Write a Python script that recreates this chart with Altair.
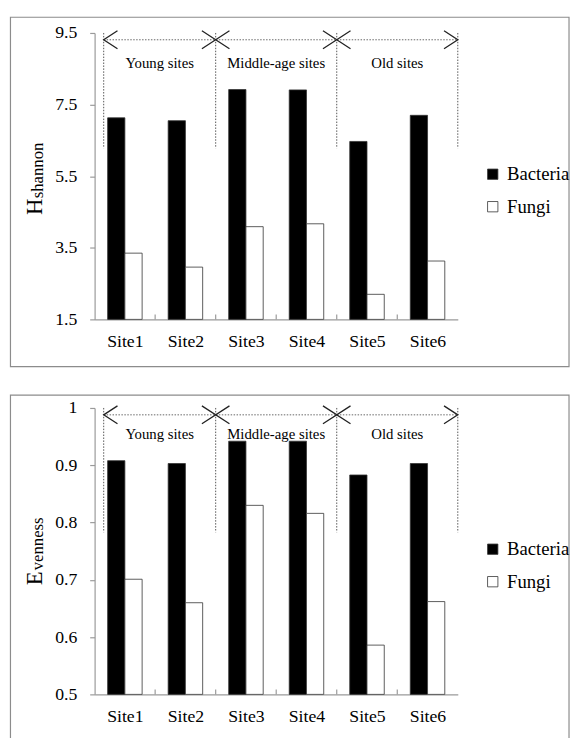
import altair as alt
import pandas as pd

# ---------------- data ----------------
sites = ["Site1", "Site2", "Site3", "Site4", "Site5", "Site6"]
series = ["Bacteria", "Fungi"]

bacteria_H = [7.13, 7.05, 7.92, 7.91, 6.47, 7.20]
fungi_H = [3.35, 2.96, 4.09, 4.17, 2.20, 3.13]

bacteria_E = [0.908, 0.903, 0.942, 0.942, 0.883, 0.903]
fungi_E = [0.701, 0.660, 0.830, 0.816, 0.586, 0.662]

groups = ["Young sites", "Middle-age sites", "Old sites"]
group_start = [0.15, 2, 4]   # in site units (0 = left edge, 6 = right edge)
group_end = [2, 4, 6]

h_ticks = [1.5, 3.5, 5.5, 7.5, 9.5]
e_ticks = [0.5, 0.6, 0.7, 0.8, 0.9, 1.0]

# ---------------- style ----------------
W, H = 369, 291
FONT = "Liberation Serif"
GRAY = "#8c8c8c"
AXG = "#9a9a9a"
SIDE_PAD = 0.215      # empty fraction of each site cell on either side of its pair of bars

ARROW_PATHS = {
    "left": "M1,-0.65L0,0L1,0.65",
    "cross": "M-1,-0.65L1,0.65M-1,0.65L1,-0.65",
    "right": "M-1,-0.65L0,0L-1,0.65",
}
SITE_LIST_EXPR = "[" + ",".join("'%s'" % s for s in sites) + "]"


def panel(bac, fun, ticks, arrow_y, label_y, dotted_bottom, frame_top, frame_bottom,
          t_main, t_sub, t_main_y, t_sub_y, label_expr):
    lo, hi = ticks[0], ticks[-1]
    n = len(sites)
    bar_w = (1 - 2 * SIDE_PAD) / len(series)
    rows = []
    for k, (name, vals) in enumerate(zip(series, [bac, fun])):
        for i, v in enumerate(vals):
            rows.append({"site": sites[i], "series": name, "value": v,
                         "x0": i + SIDE_PAD + k * bar_w, "x1": i + SIDE_PAD + (k + 1) * bar_w})
    df = pd.DataFrame(rows)

    yscale = alt.Scale(domain=[lo, hi], zero=False, nice=False)
    xscale = alt.Scale(domain=[0, n], nice=False, zero=False)

    frame = alt.Chart(alt.Data(values=[{}])).mark_rect(
        fillOpacity=0, stroke=GRAY, strokeWidth=1.2
    ).encode(x=alt.value(-85.5), x2=alt.value(482), y=alt.value(frame_top), y2=alt.value(frame_bottom))

    bars = alt.Chart(df).mark_bar(stroke="#333", strokeWidth=0.8).encode(
        x=alt.X("x0:Q", scale=xscale,
                axis=alt.Axis(title=None, values=[i + 0.5 for i in range(n)],
                              labelExpr=SITE_LIST_EXPR + "[floor(datum.value)]",
                              labelAngle=0, ticks=False, tickSize=0, labelPadding=14,
                              labelFont=FONT, labelFontSize=18, labelColor="black",
                              domainColor=AXG, domainWidth=1.2, grid=False)),
        x2="x1:Q",
        y=alt.Y("value:Q", scale=yscale,
                axis=alt.Axis(title=None, values=ticks, labelExpr=label_expr, tickSize=5,
                              labelPadding=13, labelFont=FONT, labelFontSize=18,
                              labelColor="black", domainColor=AXG, domainWidth=1.2,
                              tickColor=AXG, tickWidth=1.2, grid=False)),
        y2=alt.datum(lo),
        color=alt.Color("series:N", sort=series,
                        scale=alt.Scale(domain=series, range=["black", "white"]),
                        legend=alt.Legend(title=None, orient="none", legendX=395, legendY=134,
                                          symbolType="square", symbolSize=110,
                                          symbolStrokeColor="#333", symbolStrokeWidth=0.8,
                                          labelFont=FONT, labelFontSize=19, labelColor="black",
                                          rowPadding=13, padding=0, labelOffset=5)),
    )

    bdf = pd.DataFrame({
        "pos": [group_start[0]] + group_end,
        "kind": ["left"] + ["cross"] * (len(group_end) - 1) + ["right"],
    })
    vlines = alt.Chart(bdf).mark_rule(color="#555", strokeWidth=1, strokeDash=[1.5, 1.5]).encode(
        x="pos:Q", y=alt.datum(hi), y2=alt.datum(dotted_bottom),
    )
    heads = alt.Chart(bdf).mark_point(filled=False, size=784, opacity=1, color="#222",
                                      strokeWidth=1.3).encode(
        x="pos:Q",
        y=alt.datum(arrow_y),
        shape=alt.Shape("kind:N",
                        scale=alt.Scale(domain=list(ARROW_PATHS.keys()),
                                        range=list(ARROW_PATHS.values())),
                        legend=None),
    )
    adf = pd.DataFrame({"start": [group_start[0]], "end": [group_end[-1]]})
    hline = alt.Chart(adf).mark_rule(color="#666", strokeWidth=1, strokeDash=[1.5, 1.5]).encode(
        x="start:Q", x2="end:Q", y=alt.datum(arrow_y),
    )
    gdf = pd.DataFrame({"group": groups,
                        "mid": [(a + b) / 2 for a, b in zip(group_start, group_end)]})
    glabels = alt.Chart(gdf).mark_text(font=FONT, fontSize=15, color="black").encode(
        x="mid:Q", y=alt.datum(label_y), text="group:N",
    )
    tdf = pd.DataFrame({"b": list(range(1, n))})
    xticks = alt.Chart(tdf).mark_rule(color=AXG, strokeWidth=1.2).encode(
        x="b:Q", y=alt.value(H), y2=alt.value(H - 5),
    )
    title_main = alt.Chart(alt.Data(values=[{}])).mark_text(
        text=t_main, angle=270, align="left", baseline="alphabetic", font=FONT, fontSize=23,
        color="black").encode(x=alt.value(-53), y=alt.value(t_main_y))
    title_sub = alt.Chart(alt.Data(values=[{}])).mark_text(
        text=t_sub, angle=270, align="left", baseline="alphabetic", font=FONT, fontSize=17,
        color="black").encode(x=alt.value(-52), y=alt.value(t_sub_y))

    return alt.layer(frame, bars, vlines, hline, heads, glabels, xticks, title_main, title_sub
                     ).properties(width=W, height=H)


top = panel(bacteria_H, fungi_H, h_ticks, 9.31, 8.65, 6.28, -16, 339,
            "H", "shannon", 185, 168, "format(datum.value, '.1f')")
bottom = panel(bacteria_E, fungi_E, e_ticks, 0.988, 0.955, 0.783, -13, 345,
               "E", "venness", 180, 165,
               "datum.value == 1 ? '1' : format(datum.value, '.1f')")

chart = alt.vconcat(top, bottom, spacing=27).resolve_scale(color="independent").properties(
    padding={"left": 1, "top": 2.4, "right": 0, "bottom": 0}, background="white"
).configure_view(strokeWidth=0).configure_axis(
    grid=False, labelFont=FONT, titleFont=FONT
).configure_legend(labelFont=FONT, titleFont=FONT).configure_text(font=FONT)

chart.save("out.html", embed_options={"renderer": "svg", "actions": False})
